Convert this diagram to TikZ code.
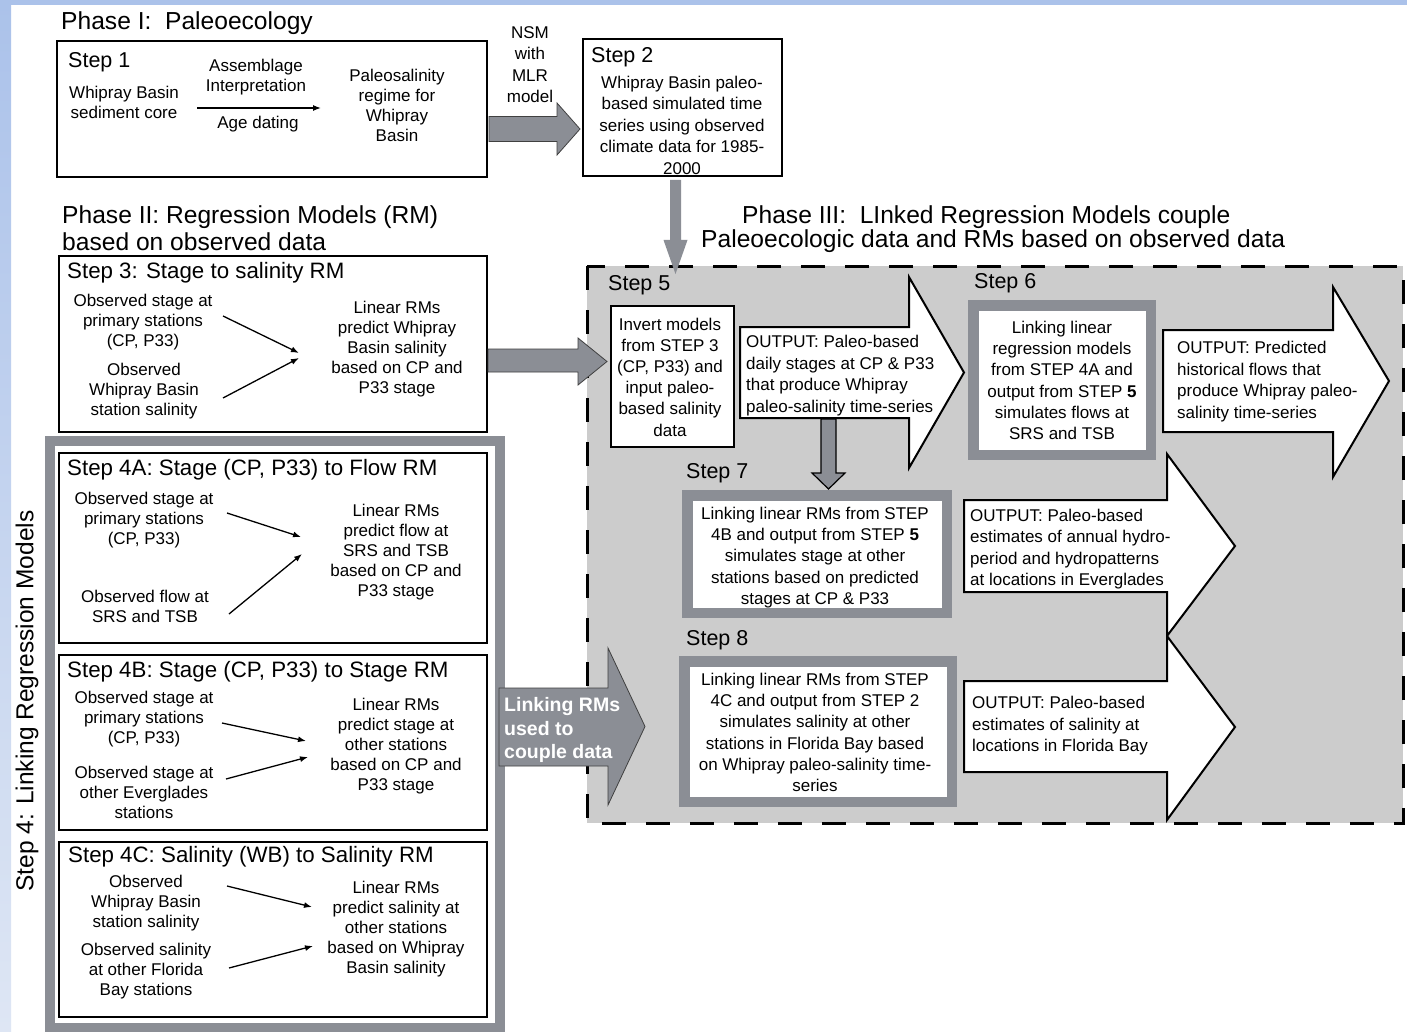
\documentclass[tikz,border=0pt]{standalone}
\usepackage{fontspec}
\setmainfont{Liberation Sans}
\usetikzlibrary{arrows.meta}
\definecolor{bgblue}{RGB}{171,194,234}
\definecolor{bgbluelight}{RGB}{222,230,244}
\definecolor{regiongray}{RGB}{204,204,204}
\definecolor{framegray}{RGB}{139,142,149}
\definecolor{arrowgray}{RGB}{139,142,149}
\tikzset{
 body/.style={font=\fontsize{17}{20}\selectfont, align=center, inner sep=0pt},
 bodyw/.style={font=\fontsize{17}{21.2}\selectfont, align=center, inner sep=0pt},
 outtext/.style={font=\fontsize{17}{21.5}\selectfont, align=left, anchor=west, inner sep=0pt},
 steptitle/.style={font=\fontsize{21.5}{24}\selectfont, anchor=west, inner sep=0pt},
 longtitle/.style={font=\fontsize{22.3}{24}\selectfont, anchor=west, inner sep=0pt},
 phasetitle/.style={font=\fontsize{24.6}{24.6}\selectfont, anchor=west, inner sep=0pt},
 blackbox/.style={draw=black, line width=2pt, fill=white, inner sep=0pt},
 graybox/.style={draw=framegray, line width=10.5pt, fill=white, inner sep=0pt},
 fatarrow/.style={fill=arrowgray, draw=black!75, line width=0.8pt, line join=miter},
 outarrow/.style={fill=white, draw=black, line width=2pt, line join=miter},
 thinarrow/.style={-{Latex[length=8pt,width=6pt]}, line width=1.3pt},
}
\begin{document}
\begin{tikzpicture}[x=1pt,y=-1pt]
\useasboundingbox (0,0) rectangle (1407,1032);
% background
\fill[white] (0,0) rectangle (1407,1032);
\fill[bgblue] (0,0) rectangle (1407,5);
\shade[top color=bgblue, bottom color=bgbluelight] (0,0) rectangle (11,1032);

% ---------------- Phase I ----------------
\node[phasetitle] (ph1) at (61,23) {Phase I:\ \ Paleoecology};
\node[blackbox, minimum width=430pt, minimum height=136pt] (s1box) at (272,109) {};
\node[steptitle] (s1t) at (68,62) {Step 1};
\node[body] (s1a) at (124,102.5) {Whipray Basin\\sediment core};
\node[body] (s1b) at (256,77) {Assemblage\\Interpretation};
\node[body] (s1c) at (258,124) {Age dating};
\node[body] (s1d) at (397,105) {Paleosalinity\\regime for\\Whipray\\Basin};
\coordinate (s1from) at (197,108);
\coordinate (s1to) at (321,108);
\draw[thinarrow] (s1from) -- (s1to);

\node[font=\fontsize{17}{21.5}\selectfont, align=center, inner sep=0pt] (nsm) at (530,64.5) {NSM\\with\\MLR\\model};
\draw[fatarrow] (489,116.5) -- (557,116.5) -- (557,103) -- (580,129) -- (557,155) -- (557,141.5) -- (489,141.5) -- cycle;

\node[blackbox, minimum width=199pt, minimum height=137pt] (s2box) at (682.5,107.5) {};
\node[steptitle] (s2t) at (591,57) {Step 2};
\node[font=\fontsize{17}{21.5}\selectfont, align=center, inner sep=0pt] (s2a) at (682,125) {Whipray Basin paleo-\\based simulated time\\series using observed\\climate data for 1985-\\2000};

% ---------------- Phase II ----------------
\node[phasetitle] (ph2a) at (62,217.5) {Phase II: Regression Models (RM)};
\node[phasetitle] (ph2b) at (62,242) {based on observed data};

\node[blackbox, minimum width=428pt, minimum height=176pt] (s3box) at (273,344) {};
\node[longtitle] (s3t) at (67,273) {Step 3: Stage to salinity RM};
\node[body] (s3a) at (143,322.5) {Observed stage at\\primary stations\\(CP, P33)};
\node[body] (s3b) at (144,391.5) {Observed\\Whipray Basin\\station salinity};
\node[body] (s3c) at (397,349.5) {Linear RMs\\predict Whipray\\Basin salinity\\based on CP and\\P33 stage};
\coordinate (s3a1) at (223,316); \coordinate (s3a2) at (299,353);
\coordinate (s3b1) at (223,398); \coordinate (s3b2) at (299,358);
\draw[thinarrow] (s3a1) -- (s3a2);
\draw[thinarrow] (s3b1) -- (s3b2);

% ---------------- Step 4 frame ----------------
\node[graybox, line width=10pt, minimum width=450pt, minimum height=587pt] (s4frame) at (275,734.5) {};
\node[font=\fontsize{24.5}{24.5}\selectfont, rotate=90, inner sep=0pt] (s4label) at (27,701) {Step 4: Linking Regression Models};

\node[blackbox, minimum width=428pt, minimum height=190pt] (s4abox) at (273,548) {};
\node[longtitle] (s4at) at (67,470) {Step 4A: Stage (CP, P33) to Flow RM};
\node[body] (s4aa) at (144,520) {Observed stage at\\primary stations\\(CP, P33)};
\node[body] (s4ab) at (145,606) {Observed flow at\\SRS and TSB};
\node[body] (s4ac) at (396,552) {Linear RMs\\predict flow at\\SRS and TSB\\based on CP and\\P33 stage};
\coordinate (s4a1) at (227,513); \coordinate (s4a2) at (301,537);
\coordinate (s4b1) at (229,614); \coordinate (s4b2) at (302,554);
\draw[thinarrow] (s4a1) -- (s4a2);
\draw[thinarrow] (s4b1) -- (s4b2);

\node[blackbox, minimum width=428pt, minimum height=175pt] (s4bbox) at (273,742.5) {};
\node[longtitle] (s4bt) at (67,672) {Step 4B: Stage (CP, P33) to Stage RM};
\node[body] (s4ba) at (144,719) {Observed stage at\\primary stations\\(CP, P33)};
\node[body] (s4bb) at (144,792) {Observed stage at\\other Everglades\\stations};
\node[body] (s4bc) at (396,746) {Linear RMs\\predict stage at\\other stations\\based on CP and\\P33 stage};
\coordinate (s4c1) at (222,723); \coordinate (s4c2) at (306,741);
\coordinate (s4d1) at (226,779); \coordinate (s4d2) at (308,757);
\draw[thinarrow] (s4c1) -- (s4c2);
\draw[thinarrow] (s4d1) -- (s4d2);

\node[blackbox, minimum width=428pt, minimum height=175pt] (s4cbox) at (273,929.5) {};
\node[longtitle] (s4ct) at (68,857) {Step 4C: Salinity (WB) to Salinity RM};
\node[body] (s4ca) at (146,903) {Observed\\Whipray Basin\\station salinity};
\node[body] (s4cb) at (146,971) {Observed salinity\\at other Florida\\Bay stations};
\node[body] (s4cc) at (396,929.5) {Linear RMs\\predict salinity at\\other stations\\based on Whipray\\Basin salinity};
\coordinate (s4e1) at (227,886); \coordinate (s4e2) at (312,907);
\coordinate (s4f1) at (229,968); \coordinate (s4f2) at (313,946);
\draw[thinarrow] (s4e1) -- (s4e2);
\draw[thinarrow] (s4f1) -- (s4f2);

% ---------------- Phase III ----------------
\node[phasetitle] (ph3a) at (742,217.5) {Phase III:\ \ LInked Regression Models couple};
\node[phasetitle] (ph3b) at (701,241.5) {Paleoecologic data and RMs based on observed data};

\draw[fill=regiongray, line width=3pt, dash pattern=on 24pt off 20pt] (587,266) rectangle (1403,823);

% step 2 -> step 5 arrow
\fill[arrowgray] (670,180) -- (681,180) -- (681,240) -- (687.5,240) -- (675.5,274) -- (663.5,240) -- (670,240) -- cycle;

% step 3 -> step 5 arrow
\draw[fatarrow] (488,349) -- (578,349) -- (578,338) -- (607,361.5) -- (578,385) -- (578,372) -- (488,372) -- cycle;

% step 5
\node[steptitle] (s5t) at (608,285) {Step 5};
\node[blackbox, minimum width=123pt, minimum height=141pt] (s5box) at (672.5,376.5) {};
\node[bodyw] (s5a) at (670,377) {Invert models\\from STEP 3\\(CP, P33) and\\input paleo-\\based salinity\\data};

% output 1
\draw[outarrow] (740,327) -- (909,327) -- (909,277) -- (964,372.5) -- (909,468) -- (909,418) -- (740,418) -- cycle;
\node[outtext] (o1) at (746,375.5) {OUTPUT: Paleo-based\\daily stages at CP \& P33\\that produce Whipray\\paleo-salinity time-series};
\draw[fill=arrowgray, draw=black, line width=1.2pt, line join=miter] (821,419) -- (836,419) -- (836,473) -- (845,473) -- (828.5,489) -- (812,473) -- (821,473) -- cycle;

% step 6
\node[steptitle] (s6t) at (974,283) {Step 6};
\node[graybox, minimum width=177.5pt, minimum height=149.5pt] (s6box) at (1062,380) {};
\node[bodyw] (s6a) at (1062,380.5) {Linking linear\\regression models\\from STEP 4A and\\output from STEP \textbf{5}\\simulates flows at\\SRS and TSB};

% output 2
\draw[outarrow] (1163,330) -- (1333,330) -- (1333,287) -- (1389,381) -- (1333,477) -- (1333,432) -- (1163,432) -- cycle;
\node[outtext] (o2) at (1177,381.5) {OUTPUT: Predicted\\historical flows that\\produce Whipray paleo-\\salinity time-series};

% step 7
\node[steptitle] (s7t) at (686,473) {Step 7};
\node[graybox, minimum width=259.5pt, minimum height=117.5pt] (s7box) at (817,554) {};
\node[bodyw] (s7a) at (815,557.5) {Linking linear RMs from STEP\\4B and output from STEP \textbf{5}\\simulates stage at other\\stations based on predicted\\stages at CP \& P33};

% output 3
\draw[outarrow] (964,500) -- (1167,500) -- (1167,454) -- (1235,546) -- (1167,636) -- (1167,592) -- (964,592) -- cycle;
\node[outtext] (o3) at (970,549) {OUTPUT: Paleo-based\\estimates of annual hydro-\\period and hydropatterns\\at locations in Everglades};

% step 8
\node[steptitle] (s8t) at (686,640) {Step 8};
\node[graybox, minimum width=267.5pt, minimum height=140.5pt] (s8box) at (818,731.5) {};
\node[bodyw] (s8a) at (815,732.5) {Linking linear RMs from STEP\\4C and output from STEP 2\\simulates salinity at other\\stations in Florida Bay based\\on Whipray paleo-salinity time-\\series};

% output 4
\draw[outarrow] (964,681) -- (1167,681) -- (1167,636) -- (1235,727) -- (1167,820) -- (1167,772) -- (964,772) -- cycle;
\node[outtext] (o4) at (972,726) {OUTPUT: Paleo-based\\estimates of salinity at\\locations in Florida Bay};

% linking arrow
\draw[fatarrow] (499,688) -- (608,688) -- (608,648) -- (645,726.5) -- (608,805) -- (608,766) -- (499,766) -- cycle;
\node[font=\fontsize{19.5}{23.5}\selectfont\bfseries, text=white, align=left, anchor=west, inner sep=0pt] (link) at (504,730) {Linking RMs\\used to\\couple data};
\end{tikzpicture}
\end{document}
